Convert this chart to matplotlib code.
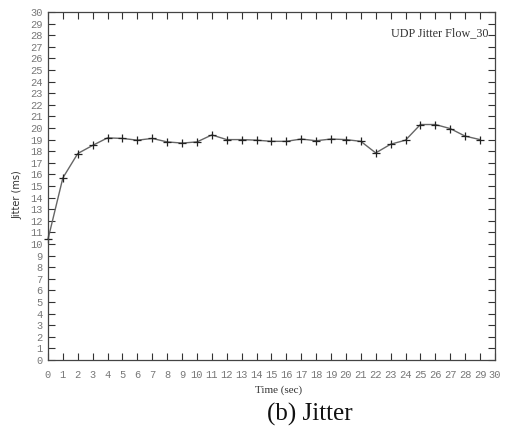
import matplotlib
matplotlib.use("Agg")
import matplotlib.pyplot as plt

time_sec = list(range(30))
jitter_ms = [10.4, 15.7, 17.8, 18.5, 19.15, 19.1, 18.95, 19.1, 18.8, 18.7,
             18.8, 19.4, 19.0, 19.0, 18.95, 18.85, 18.85, 19.05, 18.9, 19.05,
             19.0, 18.85, 17.85, 18.6, 18.95, 20.3, 20.3, 19.95, 19.3, 19.0]
x_ticks = list(range(31))
y_ticks = list(range(31))

fig = plt.figure(figsize=(5.05, 4.30), dpi=100)
ax = fig.add_axes([0.095, 0.163, 0.885, 0.809])

ax.plot(time_sec, jitter_ms, color="#666666", linewidth=1.0, marker="+",
        markersize=6, markeredgecolor="#222222", markeredgewidth=0.9, clip_on=False)

ax.set_xlim(0, 30)
ax.set_ylim(0, 30)
ax.set_xticks(x_ticks)
ax.set_yticks(y_ticks)
ax.set_xticklabels([str(v) for v in x_ticks])
ax.set_yticklabels([str(v) for v in y_ticks])
ax.tick_params(axis="both", direction="in", length=5, width=0.8, color="#333333",
               top=True, right=True, labelsize=7.5, labelcolor="#777777", pad=4)
ax.tick_params(axis="x", pad=7)
for lab in ax.get_xticklabels() + ax.get_yticklabels():
    lab.set_family("Liberation Mono")
for s in ax.spines.values():
    s.set_color("#444444")
    s.set_linewidth(0.9)

ax.set_xlabel("Time (sec)", fontsize=8, family="Liberation Serif", color="#333333")
ax.xaxis.set_label_coords(0.517, -0.074)
ax.set_ylabel("Jitter (ms)", fontsize=7, family="DejaVu Sans", color="#333333")
ax.yaxis.set_label_coords(-0.056, 0.474)
ax.text(0.985, 0.94, "UDP Jitter Flow_30", transform=ax.transAxes, ha="right", va="center",
        fontsize=8.7, family="Liberation Serif", color="#333333")

fig.text(0.614, 0.035, "(b) Jitter", ha="center", va="center", fontsize=18,
         family="Liberation Serif", color="#111111")

fig.savefig("out.png", dpi=100)
